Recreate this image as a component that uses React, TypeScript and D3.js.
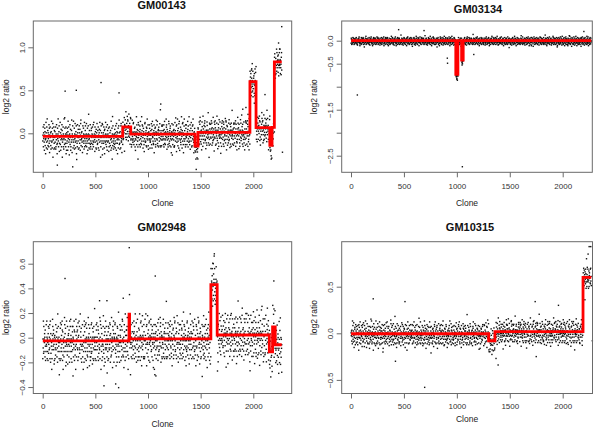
import React, { useRef, useEffect } from "react";
import * as d3 from "d3";

// ---- data ----
const cloneCount = 2270;
const panelTitles = ["GM00143", "GM03134", "GM02948", "GM10315"];
const xTicks = [0, 500, 1000, 1500, 2000];

// segments: [start clone, end clone, segment mean log2 ratio]
const segmentsGM00143: [number, number, number][] = [
  [1, 760, -0.035], [760, 836, 0.075], [836, 1446, -0.01], [1446, 1475, -0.15],
  [1475, 1968, 0.01], [1968, 2026, 0.6], [2026, 2157, 0.065], [2157, 2178, -0.14],
  [2178, 2200, 0.07], [2200, 2270, 0.83],
];
const segmentsGM03134: [number, number, number][] = [
  [1, 990, 0], [990, 1010, -0.73], [1010, 1045, 0], [1045, 1060, -0.42], [1060, 2270, 0],
];
const segmentsGM02948: [number, number, number][] = [
  [1, 820, -0.025], [820, 825, 0.19], [825, 1597, -0.01], [1597, 1657, 0.43],
  [1657, 2152, 0.022], [2152, 2183, -0.115], [2183, 2208, 0.088], [2208, 2270, -0.057],
];
const segmentsGM10315: [number, number, number][] = [
  [1, 1300, -0.005], [1300, 1360, -0.08], [1360, 2192, 0.018], [2192, 2270, 0.6],
];

// residual around the segment mean, one letter per clone sample:
// lowercase = even level, uppercase = odd level, 'm' = 0
const residualStep = [0.0135, 0.0068, 0.0145, 0.0098];

const residualsGM00143 = [
  "kMqHNlrJgMPoiKElsNhJqmTGkOiNlMHrjPfMkqLNiGomSJkhPnRdLKmqGjOh",
  "LoJmqGHnKrmIEjPlnTkHmoQFjLmsINgKpMHlrOdJmKqnHGlTmIuPKjnHqEMg",
  "NjkPMgoSlHqJMeKnrILpgHmJOtKfnLQmhJSmKiPGnlRJhMokQEcMjHrNLkpG",
  "mLhQNjpKgMRtiKNloJHfmQLkPnjGMsHlkOQiMjnRHlEkPMgjQnVKhlOMjGrI",
  "HkmOPjLnGqMIkrHJsLmnKFqJoMLhpGNkRmIjOLqhMKgNpJsmLOdHkQmNLjRe",
  "rGkMNjqLhOEpkMJsnILqHkMgrOJnLkPFmHqjLNmiOKgSlhJPmnUiQkMGjlHn",
  "IpMkhNQjLgRMoKjENlPhmQKtINjGoLmhQRkJlfNMpIoGKhmJLqBnMKpjHSlG",
  "mNjHQkpOLgMiRjkHNlEmqPJkoGHnMslJIkQrMHnjOLpGkfMJnlTHqKoMjGNr",
  "KqLmHJnPoGRkiMlHTjNqmPKgLOnjHEmkQrLIjMNhpGOkSlMJqhFMnLkqOJgI",
  "jLNkmQHogPRlKjMiHNqeLMkOjpGHnsMLkqJRihMNoGpLKjmQNhWkGMlJhPNq",
  "PmJlkNHqGoMRikJHnlMSpqKFoJmnHGlkRQiMjNhOPlkGMeJnQLdkHMqNlJoG",
  "GhMrLNjtKmPEqIklSNhjOMgQkRLfnMJpIHokTMlgNQjrMHeLkPSjNmkHGqOl",
  "qKmHLjnRoGPkmITjlHNqFmKOjrLGmhNPkqSJlIeMnhOGkrMJpLcNKqhMJlGo",
  "NlGmKQhjPSrMiKLhnEjQOmKgtLNjHpMKqrOIjLfMHnkGQpMJlnUHkmLGjqNP",
  "hMPkJLrNqGoMHkISljNMeQkPJroGMnhLKqtJIMfnHPogKRlJmQkNHdlMJgOq",
  "LrjNMkhQPgoIMlKjsHNrQmEKpjOGmLnHkqIRjMlFPnhOKgqMJnVlKhMjNGqP",
  "oKHmqJLrgNPmKiEHjlSNqMoKfPjLHgnMRkqIJmTlOnhPKgMjlQHmkENjLGrQ",
  "JqNmhLKrPgOMijKEsNlhQMokPJgrNHlMkiQFjmNOlhPKgRMjqLSnhKMjgLQo",
  "MhKqnJLrpGOiEmKLhjNSqmOKpFjlGRnhMkIqjMLonHPkgTMjqLKnhCmLJgPr",
  "lPJnkQHmrGOimKLehJNsQMkoPJlfGNhmKRiqJMlOnHpKgMJqlKRnhMJlGoqI",
].join("");

const residualsGM03134 = [
  "iqogljmhnrklqjmgkphnolmjqirkmhngfljpokmqsnjhelkmiogrmhqknjpl",
  "rpgjlmchnklqjmtgkphnolmjqikmhnrgljfpkomqsnjhlkmeiogprljnqkhm",
  "oqlgjmkhnslqjmrgkphlonmjfqikmlhnrgjpkomqhlnsekjimogprklhmnqj",
  "qrgljnekmhqljmgkphnoltmjiqkrmnghljpfkomqnsljheikmpngrljqmhko",
  "pqgnjmhklvnjmqgkohnpflmjriqkhnlmgojpkemqrnhsjklmiogpqhkmnjrl",
  "qogjmldhnkqmjlrkgophnfmijtqklhnmgorjpkqemnjlsikhmogqnrljkpmh",
  "pnqjglmkhunljmpqgknhmfljiorqkmphjnltgkmoqjenhlkimrspjhqkmgln",
  "ogljmhqknclpjmrkgohnmeiljsqkpnhmglrjokmfqnhljtimkpgornjlhmkq",
  "loqghkmnjspklehmrjqnglmtkohipjmnflrkqgmojhnslkiqepmktjnlrmhg",
  "gojlnqmhkdlqnjemgklpohnjmiqrklghnmjofkqpsmlnhjkirmogqhnkljmp",
  "qnphjlmgkwhnqmjklpgonmhirjqklmsnhgpjokmleqnhimjklrpgohqmknlj",
  "igjoqklnmfhqjmlskogphnmjilrqkmehjnolgkpmqnjthlmikrgopnjhmlqk",
  "rngjmokqhtlnjmfkgplojnhmrqkijlsmnhgokjpqmelnhkjrimglopkqhjnm",
  "glshjpkmnbqljmhkgoipmnfljkrqhmlogjnitkqmhplnejkomrgljqnhkmpi",
  "nhljgmkqiunmpjhlsgkoimnljqhmfpklnjorgmkhqlinsjmkpeohlqjnmkgr",
  "erjlnmqkhdolmsjpngkmhqlojimrkngphlmojqfknmlsjhrkimqgnljpomkh",
  "irgjmolhkvnqjgmpkelhrnjmiqoklhsmgjnpklqmfhjolnkitrmgkpjnqhlm",
  "gpklnrhjmceqkomhjrlngpikmsjhmqlnfktojmhgplirnkemjqhlsogmpkjn",
  "gmeqhnjkpuimtlghnqkmjdorlhmpkgnismljfqomhktnlpjeimrknhgqmjol",
  "hojgqmkldrnphkjsmoginlqkmfpjrhmlniokgtmqjhnslekiopmgjrlnhqmk",
].join("");

const residualsGM02948 = [
  "hMkRIqjMLonHpKGmjQlKRnhMjLGoqIlPJnkQhMRgoImKLehJNsqMKopJlFGn",
  "NhMkiQJmlOnHPkgTMjqLKnhCmLjGPrMhkQNjlRpGOieMkLHjnSQmoKPfjLgR",
  "lMKiqFjMNolHpKgRMjqLsNhKMjgLqOJqnMHlkRpGOmiJKesNlHqMOkpJGrnH",
  "NmRkqIJmTlOnhPKgmJlQHmKeNjLgRqOkhMQjLrGnPMkiEHjlSnQMoKfPjlHG",
  "nHkQIrjMlFPnhOkGqMJnvLKhmJnGQpLrJnmKHqpGoIMlkJShnRQmeKPjoGMl",
  "HlKqtJImfNhPOgkRlJMqkNHdlMjGOqhMPkJlrNQgoMHkiSLjnMEqKpJRogMn",
  "MkQroIJlfMHnKgqPMjlNuHKmLgjQNpnLGmKqHJpsRMikLHnEjQOmkGTlNjHp",
  "NpKqSjLieMNhoGkRmJPlcNKqhMJlGoQkmHLjNroGPkMitJLhnQFmKojRLgMh",
  "JpIhOktMLgnQJrMhElkPSjnMKhGqoLGhmRLnJtKmPEqiKlSNhjOMgQKrlFnM",
  "LkRqIMjNhOPlKgMeJNqlDkHMqNLjoGPmJLknHQgOmRIkjHNlMsPQkFoJMnhG",
  "MlKqJRihMNoGpLKjmQNhWkGmLJhpNQjLnKMqHoGPrLkJMihNqELmKOjpGHns",
  "MkQrLIjmNHpGoKSlmJQhFmNlKqOjGiKqLmHJnpOGrKiMLhTjNqMPkgLOnJhE",
  "LjIkQrMHnJoLpGKfMjNLtHqKoMjGNrmNJhQkPOlGmIRjkHnLEmqPJkOgHNms",
  "MhQrKJlfNMpIoGKhmJLqBnMkPjHSlGiPMkhNqJLgRmOKjeNLphMqKTinJgOl",
  "PfMhQJlnMiOKgsLHjpMNuiQkMGjlHNrGkMnJqLhOEpKmJsNIlqHKmGrOJnlK",
  "NkRmIjOLqhMKgNPjsMLodHkQMnlJReHKmoPJlNgQMikRHjsLMnKfQJomLHpg",
  "HlKoQiMJnrHLekPMgjQnVkHLomJGriMlHQnjPKgmRTikNLojHfMQlkPnJGms",
  "QmHJsmKiPGnlRJhMokQEcMjHRnlKPgNjkPMgoSLhqJMeKNriLPghMJotKFnl",
  "GkPMhlRoDjMKqnHGltMIupKJnhQEmgLOjmQGhnKRmiEJplNTkhMOqfJLmsIn",
  "HrJpfMKqlNiGOmsJkHPnrDLkmQgJOhKmqHNlRjGMpoIKelSNhJqmTGkoINlm",
].join("");

const residualsGM10315 = [
  "MlNioKGtmQjHNslEkiOPmgJrLNhqMkHOjgQMkLdrNPhkJSmoGInlQKmfPJrH",
  "NisMLjfQOmhKtNlpJEimRKnhGqMJolGMeqHNjkPuIMtlGHnqKMjdORlhMPkG",
  "LnFktOJmhGPliRNkeMJqhLSogMPkjNGpkLNrhJMceQKomHJrlNGpiKMsjHMq",
  "SmGJnpKLqmFHjoLNkiTRmgKPjnQHlmIRgjMOlhKVnqJGmpKElhRNjmIQokLH",
  "GpHLmoJqFKnmLsJHrkIMqgNLjpOMkhErJLnmQKhdOlmSJpnGKmhQLojIMrkN",
  "KlNJorGMkhQLinSJmkPEohLQjnMKgrNHljGMkqIUnmPJhlSGkoIMnlJQhmFP",
  "LoGjNItkQMhpLNejKOmrGLjqNHkmPIglShJPkmNBqlJMhkGOipMNflJKrqHm",
  "SmNhGOkjPQmeLNhkJRimGLopKQhjNMrnGJmoKQhtLNjmFKgpLOjnHMrqKIjl",
  "EhJNolGKpmQNjtHLmiKRgoPNjhMLqkIGjoQKlnMFhqJMlsKOgpHNmjILrqKM",
  "SnHGpjOKmlEQnhIMjkLRpgOHqmKNljQNphJLmgKWhnQMjkLPgoNMhiRJqkLM",
  "GhNMjoFKqpSMlnHJkiRMogQHnkLJmpGOjlNQmhKDlqNJemGKlpOHnjMIqrKL",
  "MnFLrkQGmoJHnsLKiqEPmkTJnlRMhgLOqgHKmnJSpkLEhmRJqnGLmtKOhiPJ",
  "HmGLrjOKmfQNhlJTimKPgoRNjlHMkqOGljMHqkNClpJMrkGOhnMEilJSqkPN",
  "PhJNltGKmoQJenHLkiMRspJHqkMGlnPNqjGLmkHUnlJMpqGKnhMFljIOrqKM",
  "NmGOrjPKqeMNjlSIkhMOgqNRljKPmhQOgjMLdhNKqmJLrkGOphNFmiJTqkLH",
  "LmGOjpKEmqRNhsJKlmIOgpQHkmNJrlPQgnJMhkLVnjMQgkOHnpFLmjRIqkHN",
  "GhLJpfKOmqNSljHEikMPngRLjqMHkoQRglJNekMHqlJMgkPHnoLTmjIQkrMN",
  "HnRGjpKOmqHLnsEKjiMOgpRKlhMNqjOQlgJMkhNSlqJMrgKPhlONmjFQikML",
  "RgLJfpKOmqSNjhLKmeIOgpRLjnQKhmRPgjLMchNKlqJMtgKPhnOLmjQIkmHN",
  "NgFLjpOKmqSNjhELkmIOgrMHqkNJplIQogLJmhNRklQJmgKPhnOLmjQIrkMH",
].join("");

// isolated clones far from their segment: [clone, log2 ratio]
const outliersGM00143: [number, number][] = [
  [213, 0.49], [319, 0.5], [554, 0.59], [725, 0.47], [139, -0.37], [285, -0.39],
  [1121, 0.34], [2111, 0.45], [2270, 1.24], [2277, -0.22], [1990, 0.81], [1985, 0.75],
  [2240, 1.05], [2250, 0.98], [1455, -0.3], [1900, 0.28], [1930, 0.3], [660, -0.3],
  [905, -0.3], [1580, -0.28], [2170, -0.3], [2010, 0.35], [1950, 0.22],
];
const outliersGM03134: [number, number][] = [
  [60, -1.18], [910, -0.38], [912, -0.49], [1000, -0.82], [1005, -0.86], [1052, -2.74],
  [1160, -0.3], [450, 0.24], [690, 0.22], [1050, -0.48], [995, -0.78], [2200, 0.2],
];
const outliersGM02948: [number, number][] = [
  [212, 0.48], [822, 0.73], [1069, 0.5], [2195, 0.46], [582, -0.39], [693, -0.375],
  [721, -0.405], [765, 0.32], [1065, -0.3], [1075, -0.31], [288, -0.31], [1630, 0.68],
  [1620, 0.6], [1610, 0.56], [540, 0.3], [610, 0.3], [1660, -0.27], [2270, -0.28],
];
const outliersGM10315: [number, number][] = [
  [210, 0.37], [510, 0.34], [696, -0.58], [1740, 0.34], [2250, 0.93], [2265, 0.93],
  [1390, -0.34], [420, -0.3], [2280, -0.08], [2240, 0.85], [2225, 0.8], [2210, 0.36],
  [1750, -0.25], [1960, 0.3], [1370, -0.27],
];

const yTicksGM00143 = [0, 0.5, 1];
const yLabelsGM00143 = ["0.0", "0.5", "1.0"];
const yTicksGM03134 = [0, -0.5, -1, -1.5, -2, -2.5];
const yLabelsGM03134 = ["0.0", "\u22120.5", "", "\u22121.5", "", "\u22122.5"];
const yTicksGM02948 = [-0.4, -0.2, 0, 0.2, 0.4, 0.6];
const yLabelsGM02948 = ["\u22120.4", "\u22120.2", "0.0", "0.2", "0.4", "0.6"];
const yTicksGM10315 = [-0.5, 0, 0.5];
const yLabelsGM10315 = ["\u22120.5", "0.0", "0.5"];

// ---- layout (pixel positions of each panel) ----
const FONT = "'Liberation Sans', Arial, Helvetica, sans-serif";
const layouts = [
  { left: 33.3, top: 21, right: 291.7, bottom: 172.3, x0: 42.7, x2000: 253.3, ya: [0, 133.3], yb: [1, 47.3], titleX: 161.7, titleY: 9, tickY: 189.5, cloneY: 205.5 },
  { left: 341.7, top: 21, right: 592.3, bottom: 172.3, x0: 351, x2000: 562.7, ya: [0, 40.7], yb: [-2.5, 155.7], titleX: 478, titleY: 13, tickY: 189.5, cloneY: 205.5 },
  { left: 33.3, top: 241.7, right: 291.7, bottom: 393.5, x0: 42.7, x2000: 253.3, ya: [0, 337.7], yb: [0.6, 263.7], titleX: 161.7, titleY: 230.5, tickY: 409.5, cloneY: 426.5 },
  { left: 341.7, top: 241.7, right: 592.5, bottom: 393.5, x0: 351, x2000: 562.7, ya: [0, 333.3], yb: [0.5, 286.7], titleX: 470, titleY: 230.5, tickY: 409.5, cloneY: 422 },
];

const panels = [
  { segments: segmentsGM00143, residuals: residualsGM00143, outliers: outliersGM00143, yTicks: yTicksGM00143, yLabels: yLabelsGM00143 },
  { segments: segmentsGM03134, residuals: residualsGM03134, outliers: outliersGM03134, yTicks: yTicksGM03134, yLabels: yLabelsGM03134 },
  { segments: segmentsGM02948, residuals: residualsGM02948, outliers: outliersGM02948, yTicks: yTicksGM02948, yLabels: yLabelsGM02948 },
  { segments: segmentsGM10315, residuals: residualsGM10315, outliers: outliersGM10315, yTicks: yTicksGM10315, yLabels: yLabelsGM10315 },
];

function residualLevel(code: number) {
  const upper = code < 97;
  const idx = upper ? code - 65 : code - 97;
  return 2 * (idx - 12) + (upper ? 1 : 0);
}

function clonePoints(segments: [number, number, number][], residuals: string, step: number, outliers: [number, number][]) {
  const n = residuals.length;
  const pts: [number, number][] = [];
  for (let i = 0; i < n; i++) {
    const clone = 1 + (i * (cloneCount - 1)) / (n - 1);
    const seg = segments.find((s) => clone <= s[1]) || segments[segments.length - 1];
    pts.push([clone, seg[2] + residualLevel(residuals.charCodeAt(i)) * step]);
  }
  return pts.concat(outliers);
}

const App: React.FC = () => {
  const svgRef = useRef<SVGSVGElement | null>(null);

  useEffect(() => {
    if (!svgRef.current) return;
    const svg = d3.select(svgRef.current);
    svg.selectAll("*").remove();

    svg.append("rect").attr("width", 601).attr("height", 427).attr("fill", "#fff");

    panels.forEach((p, i) => {
      const L = layouts[i];
      const x = d3.scaleLinear().domain([0, 2000]).range([L.x0, L.x2000]);
      const y = d3.scaleLinear().domain([L.ya[0], L.yb[0]]).range([L.ya[1], L.yb[1]]);
      const g = svg.append("g");

      // points
      const pts = clonePoints(p.segments, p.residuals, residualStep[i], p.outliers);
      g.append("g")
        .selectAll("rect")
        .data(pts)
        .enter()
        .append("rect")
        .attr("x", (d) => x(d[0]) - 0.7)
        .attr("y", (d) => y(d[1]) - 0.7)
        .attr("width", 1.4)
        .attr("height", 1.4)
        .attr("fill", "#111");

      // segmentation as a red step line
      const stepPts: [number, number][] = [];
      p.segments.forEach((s) => {
        stepPts.push([s[0], s[2]]);
        stepPts.push([s[1], s[2]]);
      });
      const line = d3.line<[number, number]>().x((d) => x(d[0])).y((d) => y(d[1]));
      g.append("path")
        .attr("d", line(stepPts) || "")
        .attr("fill", "none")
        .attr("stroke", "#f00")
        .attr("stroke-width", 2.8);

      // frame
      g.append("rect")
        .attr("x", L.left)
        .attr("y", L.top)
        .attr("width", L.right - L.left)
        .attr("height", L.bottom - L.top)
        .attr("fill", "none")
        .attr("stroke", "#6a6a6a")
        .attr("stroke-width", 1);

      // x axis
      const gx = g.append("g")
        .attr("transform", `translate(0,${L.bottom})`)
        .call(d3.axisBottom(x).tickValues(xTicks).tickSize(5).tickPadding(L.tickY - L.bottom - 10.7).tickFormat(d3.format("d")));
      gx.select(".domain").remove();
      gx.selectAll("line").attr("stroke", "#6a6a6a");
      gx.attr("font-size", 8).attr("font-family", FONT);
      gx.selectAll("text").attr("fill", "#333");

      // y axis, labels parallel to axis
      const gy = g.append("g")
        .attr("transform", `translate(${L.left},0)`)
        .call(d3.axisLeft(y).tickValues(p.yTicks).tickSize(5).tickFormat((_, k) => p.yLabels[k]));
      gy.select(".domain").remove();
      gy.selectAll("line").attr("stroke", "#6a6a6a");
      gy.attr("font-size", 8).attr("font-family", FONT);
      gy.selectAll("text")
        .attr("fill", "#333")
        .attr("x", 0)
        .attr("y", -8.3)
        .attr("dy", 0)
        .attr("text-anchor", "middle")
        .attr("transform", "rotate(-90)");

      // titles
      g.append("text")
        .attr("x", L.titleX)
        .attr("y", L.titleY)
        .attr("text-anchor", "middle")
        .attr("font-family", FONT)
        .attr("font-weight", "bold")
        .attr("font-size", 11)
        .attr("fill", "#111")
        .text(panelTitles[i]);

      g.append("text")
        .attr("x", (L.left + L.right) / 2)
        .attr("y", L.cloneY)
        .attr("text-anchor", "middle")
        .attr("font-family", FONT)
        .attr("font-size", 8.5)
        .attr("fill", "#222")
        .text("Clone");

      g.append("text")
        .attr("transform", `translate(${L.left - 24.3},${(L.top + L.bottom) / 2}) rotate(-90)`)
        .attr("text-anchor", "middle")
        .attr("font-family", FONT)
        .attr("font-size", 8.5)
        .attr("fill", "#222")
        .text("log2 ratio");
    });
  }, []);

  return (
    <svg
      ref={svgRef}
      width={601}
      height={427}
      style={{ position: "absolute", left: 0, top: 0, display: "block" }}
    />
  );
};

export default App;
